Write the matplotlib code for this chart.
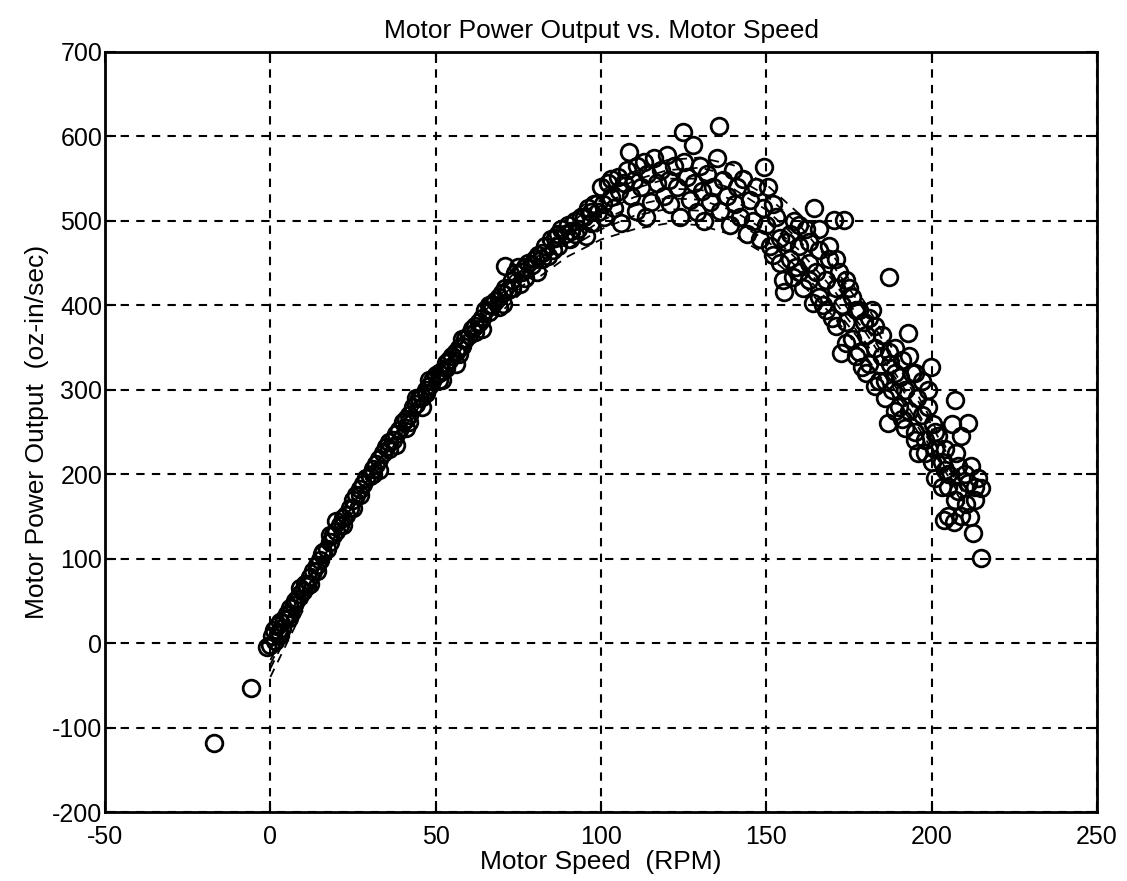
import matplotlib
matplotlib.use("Agg")
import matplotlib.pyplot as plt

# scattered measurements (Motor Speed RPM, Motor Power oz-in/sec)
speed_pts = [
    -17, -6,
    -1, 0, 0.5, 1, 1.5, 2, 2.5, 3, 3.5, 4, 5, 5.5, 6, 7, 7.5, 8, 9, 10, 10.5, 11, 12, 13, 14, 15,
    15.5, 16, 17, 18, 19, 20, 21, 22, 23, 24, 25, 26, 27, 28, 29, 30, 31, 32, 33, 34, 35, 36, 37,
    38, 39, 40, 41, 42, 43, 44, 45, 46, 47, 48, 49, 50, 51, 52, 53, 54, 55, 56, 57, 58, 59, 60,
    38, 46, 52, 56, 33, 25, 20, 12,
    3, 6, 9, 14, 18, 22, 27, 31, 36, 41, 44, 48, 53, 57, 62, 66, 69, 73, 77, 82, 87, 92, 97, 64,
    58, 51, 47, 42,
    61, 62, 63, 64, 65, 66, 67, 68, 69, 70, 70.5, 71, 72, 73, 74, 75, 75.5, 76, 77, 78, 79, 80,
    80.5, 81, 82, 83, 84, 85, 85.5, 86, 87, 88, 89, 90, 90.5, 91, 92, 93, 94, 95, 95.5, 96, 97,
    98, 99, 100, 100.5, 101, 102, 103, 71,
    103, 104, 105, 105.5, 106, 107, 108, 108.6, 109, 110, 110.5, 111, 112, 113, 113.7, 114, 115,
    116, 117, 118, 119, 120, 120.5, 121, 122, 123, 124, 124.9, 125, 126, 127, 127.9, 128, 129,
    130, 130.5, 131, 132, 133, 134, 135, 135.7, 136, 137, 138, 139, 140, 140.5, 141, 142, 143,
    144, 145, 146, 147, 148, 149, 149.3, 150, 150.5, 151, 152, 153, 154,
    155, 155.4, 156, 157, 158, 158.5, 159, 160, 161, 162, 163, 164, 164.5, 165, 166, 167, 168,
    169, 170, 170.4, 171, 172, 172.5, 173, 173.5, 174, 175, 176, 177, 178, 179, 179.5, 180, 181,
    182, 183, 184, 185, 186, 186.7, 187, 187.5, 188, 189, 190, 190.5, 191, 192, 192.8, 193, 194,
    195, 195.5, 196, 197, 198, 199, 199.7, 200, 200.5, 201, 202, 203, 203.6, 204, 204.8, 205,
    206, 206.6, 207, 207.5, 208, 209, 210, 210.5, 211, 211.5, 212, 212.5, 213, 214, 214.8, 214.8,
    152, 154, 157, 160, 163, 166, 168, 171, 174, 177, 180, 183, 186, 189, 192, 195, 198, 201,
    204, 208, 211, 213, 209, 207, 205, 203, 201, 199, 197, 195, 193, 191, 189, 187, 185, 183,
    181, 178, 176, 174, 171, 169, 166, 163, 160,
]
power_pts = [
    -118, -53,
    -5, -2, 8, 15, 3, 20, 12, 25, 18, 28, 35, 30, 42, 45, 50, 52, 58, 62, 70, 68, 78, 85, 92, 98,
    105, 108, 112, 120, 128, 133, 140, 148, 152, 160, 170, 175, 182, 188, 195, 198, 206, 212, 218,
    225, 232, 238, 240, 248, 252, 262, 265, 270, 280, 283, 290, 292, 300, 305, 310, 318, 320, 322,
    332, 335, 340, 345, 350, 352, 360, 365,
    235, 280, 312, 330, 205, 160, 145, 70,
    10, 35, 65, 85, 128, 140, 175, 200, 230, 255, 290, 312, 326, 342, 368, 400, 398, 420, 445, 455,
    485, 485, 510, 372, 360, 312, 296, 262,
    372, 375, 380, 385, 395, 392, 400, 405, 410, 415, 402, 420, 418, 430, 438, 445, 425, 440, 432,
    450, 448, 455, 440, 460, 462, 470, 458, 478, 465, 480, 470, 490, 485, 495, 478, 488, 500, 490,
    505, 505, 482, 515, 498, 520, 510, 540, 520, 505, 545, 528, 446,
    550, 515, 552, 535, 498, 545, 560, 581, 530, 548, 512, 565, 540, 570, 505, 555, 522, 575, 545,
    560, 530, 578, 548, 520, 565, 540, 505, 605, 570, 552, 525, 590, 545, 510, 565, 535, 500, 555,
    522, 540, 575, 612, 512, 548, 530, 495, 560, 520, 540, 505, 550, 485, 525, 500, 540, 478, 515,
    564, 495, 540, 470, 520, 505, 480,
    430, 416, 475, 455, 433, 500, 445, 470, 420, 490, 450, 403, 515, 440, 465, 400, 430, 455, 385,
    501, 420, 440, 344, 400, 501, 380, 420, 360, 395, 345, 327, 380, 365, 330, 395, 350, 310, 365,
    290, 261, 434, 330, 300, 350, 280, 315, 265, 300, 367, 275, 320, 250, 290, 225, 270, 240, 300,
    327, 215, 260, 195, 245, 185, 146, 230, 150, 200, 260, 143, 288, 225, 180, 245, 200, 165, 261,
    149, 210, 130, 185, 195, 184, 101,
    460, 450, 485, 440, 430, 410, 395, 375, 355, 340, 320, 305, 310, 275, 255, 240, 225, 230, 205,
    210, 190, 170, 150, 170, 185, 215, 250, 280, 310, 320, 340, 335, 320, 345, 340, 375, 385, 395,
    410, 430, 455, 470, 490, 475, 495,
]

# dashed fitted curves, sampled every 10 RPM
curve_speed = [0, 10, 20, 30, 40, 50, 60, 70, 80, 90, 100, 110, 120, 130, 140, 150, 160, 170,
               180, 190, 200, 210]
curve_1 = [-40, 40, 122, 190, 250, 303, 350, 393, 430, 458, 478, 490, 497, 495, 483, 460, 428,
           388, 340, 285, 225, 162]
curve_2 = [-30, 48, 126, 194, 253, 307, 355, 399, 437, 467, 490, 506, 514, 512, 500, 477, 443,
           400, 350, 293, 230, 165]
curve_3 = [-15, 58, 130, 197, 256, 310, 359, 404, 443, 475, 500, 518, 527, 525, 512, 488, 452,
           408, 356, 298, 235, 168]
curve_4 = [-5, 65, 135, 200, 260, 315, 365, 410, 450, 484, 510, 528, 538, 537, 525, 500, 465,
           420, 368, 308, 242, 175]
curve_5 = [-8, 63, 134, 200, 261, 317, 368, 414, 455, 490, 518, 538, 550, 550, 538, 513, 477,
           430, 375, 313, 245, 176]
curve_6 = [-20, 55, 130, 198, 260, 318, 370, 417, 459, 495, 525, 548, 560, 563, 553, 530, 495,
           448, 392, 328, 258, 185]
curve_7 = [-25, 52, 128, 198, 262, 320, 373, 422, 466, 504, 535, 558, 572, 575, 566, 543, 508,
           460, 402, 336, 263, 190]
curves = [curve_1, curve_2, curve_3, curve_4, curve_5, curve_6, curve_7]

x_ticks = [-50, 0, 50, 100, 150, 200, 250]
y_ticks = [-200, -100, 0, 100, 200, 300, 400, 500, 600, 700]

plt.rcParams["font.family"] = ["Liberation Sans", "DejaVu Sans"]
plt.rcParams["axes.unicode_minus"] = False

fig = plt.figure(figsize=(11.27, 8.81), dpi=100)
ax = fig.add_axes([0.0932, 0.0783, 0.8802, 0.8627])

for curve in curves:
    ax.plot(curve_speed, curve, color="black", linestyle=(0, (5, 4)), linewidth=1.3, zorder=2)

ax.plot(speed_pts, power_pts, linestyle="none", marker="o", markersize=12,
        markerfacecolor="none", markeredgecolor="black", markeredgewidth=2.0, zorder=3)

ax.set_xlim(-50, 250)
ax.set_ylim(-200, 700)
ax.set_xticks(x_ticks)
ax.set_yticks(y_ticks)
ax.grid(True, color="black", linestyle=(0, (4, 3.5)), linewidth=1.5)
ax.tick_params(direction="in", length=8, width=1.5, labelsize=18, top=True, right=True)
ax.tick_params(axis="x", pad=9)
ax.tick_params(axis="y", pad=2)
for spine in ax.spines.values():
    spine.set_linewidth(2)

ax.set_title("Motor Power Output vs. Motor Speed", fontsize=19, pad=10)
ax.set_xlabel("Motor Speed  (RPM)", fontsize=19, labelpad=1)
ax.set_ylabel("Motor Power Output  (oz-in/sec)", fontsize=19, labelpad=2)

fig.savefig("out.png", dpi=100)
